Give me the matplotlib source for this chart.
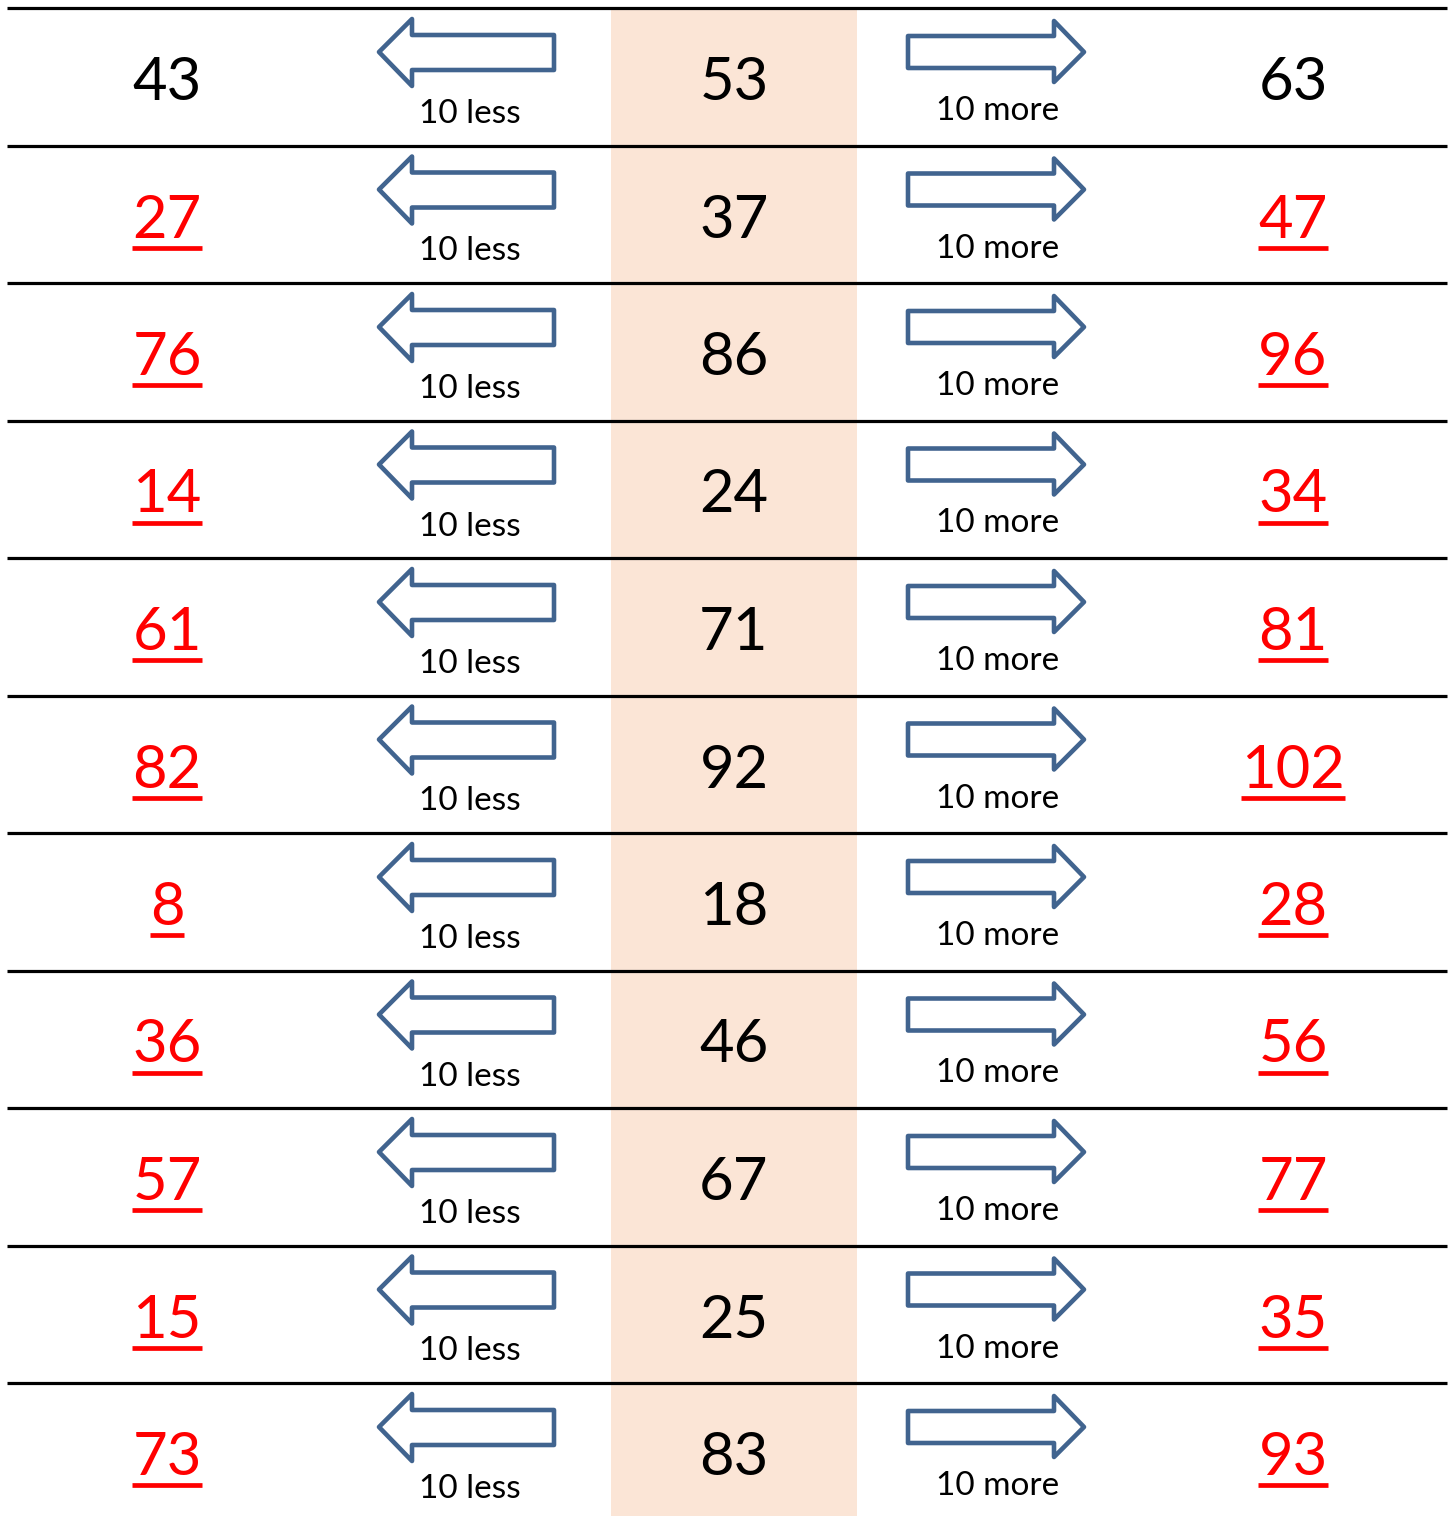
import numpy as np
import matplotlib
matplotlib.use("Agg")
import matplotlib.pyplot as plt
from matplotlib.patches import Polygon, Rectangle

W, H = 1453, 1516

middle = [53, 37, 86, 24, 71, 92, 18, 46, 67, 25, 83]
less = [43, 27, 76, 14, 61, 82, 8, 36, 57, 15, 73]
more = [63, 47, 96, 34, 81, 102, 28, 56, 77, 35, 93]
# first row is the worked example (black, no underline)
answer = [False] + [True] * 10
less_label = "10 less"
more_label = "10 more"

plt.rcParams['font.family'] = ['Lato', 'DejaVu Sans']

fig = plt.figure(figsize=(W / 100, H / 100), dpi=100)
ax = fig.add_axes([0, 0, 1, 1])
ax.set_xlim(0, W)
ax.set_ylim(H, 0)
ax.axis('off')

row_h = 137.5
top0 = 8
col_left, col_mid, col_right = 167, 734, 1293
arrow_col = '#41648F'

# shaded middle column
ax.add_patch(Rectangle((611, top0), 857 - 611, H - top0, facecolor='#FBE5D6', edgecolor='none', zorder=0))

texts = []
for i in range(len(middle)):
    top = top0 + i * row_h
    ax.plot([7, 1447], [top, top], color='black', lw=2.3, solid_capstyle='butt', zorder=3)

    # left arrow
    cy = top + 44
    left_arrow = [(379, cy), (412, cy - 33), (412, cy - 17), (554, cy - 17),
                  (554, cy + 18), (412, cy + 18), (412, cy + 34)]
    ax.add_patch(Polygon(left_arrow, closed=True, facecolor='white', edgecolor=arrow_col,
                         lw=3.3, joinstyle='round', zorder=2))
    # right arrow
    right_arrow = [(1084, cy), (1054, cy - 31), (1054, cy - 16), (908, cy - 16),
                   (908, cy + 16), (1054, cy + 16), (1054, cy + 30)]
    ax.add_patch(Polygon(right_arrow, closed=True, facecolor='white', edgecolor=arrow_col,
                         lw=3.3, joinstyle='round', zorder=2))

    ax.text(470, top + 115, less_label, ha='center', va='baseline', fontsize=24, color='black')
    ax.text(998, top + 112, more_label, ha='center', va='baseline', fontsize=24, color='black')

    c = 'red' if answer[i] else 'black'
    ax.text(col_mid, top + 92, str(middle[i]), ha='center', va='baseline', fontsize=43, color='black')
    t1 = ax.text(col_left, top + 92, str(less[i]), ha='center', va='baseline', fontsize=43, color=c)
    t2 = ax.text(col_right, top + 92, str(more[i]), ha='center', va='baseline', fontsize=43, color=c)
    if answer[i]:
        texts.append((t1, top))
        texts.append((t2, top))

# underline the answers
fig.canvas.draw()
renderer = fig.canvas.get_renderer()
inv = ax.transData.inverted()
for t, top in texts:
    bb = t.get_window_extent(renderer)
    x0, _ = inv.transform((bb.x0, bb.y0))
    x1, _ = inv.transform((bb.x1, bb.y0))
    ax.plot([x0, x1], [top + 102, top + 102], color='red', lw=3.4, solid_capstyle='butt')

fig.savefig('out.png', dpi=100)
